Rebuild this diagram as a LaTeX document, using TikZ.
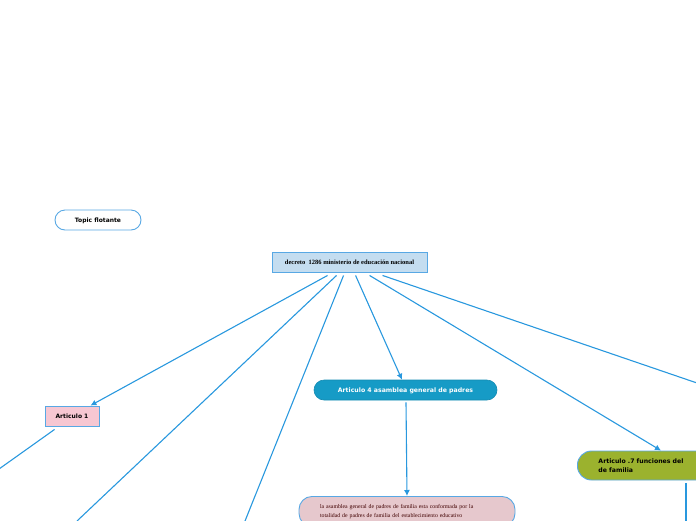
\documentclass[tikz,border=0pt]{standalone}
\usepackage{fontspec}
\setmainfont{Liberation Serif}
\newfontfamily\sansb{DejaVu Sans}
\usetikzlibrary{arrows.meta,calc}
\definecolor{lineblue}{RGB}{41,152,222}
\definecolor{bordblue}{RGB}{88,168,228}
\definecolor{centralfill}{RGB}{196,221,240}
\definecolor{pinkfill}{RGB}{247,199,210}
\definecolor{tealfill}{RGB}{22,155,198}
\definecolor{rosefill}{RGB}{230,200,205}
\definecolor{greenfill}{RGB}{155,178,46}
\tikzset{
  conn/.style={draw=lineblue, line width=1.1pt},
  arr/.style={conn, -{Latex[length=6pt,width=6pt]}},
  topicbox/.style={draw=bordblue, line width=0.9pt, fill=white, rounded corners=10pt,
    minimum width=86pt, minimum height=20pt, inner sep=0pt, text depth=0pt,
    font=\sansb\bfseries\fontsize{6}{7}\selectfont},
  centralbox/.style={draw=bordblue, line width=0.9pt, fill=centralfill,
    minimum width=155pt, minimum height=20pt, inner sep=0pt, text depth=0pt,
    font=\bfseries\fontsize{6.5}{7}\selectfont},
  artbox/.style={draw=bordblue, line width=0.9pt, fill=pinkfill,
    minimum width=54pt, minimum height=20pt, inner sep=0pt, text depth=0pt,
    font=\sansb\bfseries\fontsize{6}{7}\selectfont},
  pillbox/.style={draw=tealfill!90!black, line width=0.6pt, fill=tealfill, rounded corners=10pt,
    minimum width=183pt, minimum height=20pt, inner sep=0pt, text=white, text depth=0pt,
    font=\sansb\bfseries\fontsize{6.2}{7}\selectfont},
  rosebox/.style={draw=bordblue, line width=0.9pt, fill=rosefill, rounded corners=13pt,
    minimum width=216pt, minimum height=30pt, inner xsep=21pt, inner ysep=0pt,
    text width=174pt, align=left, text=black!75!red,
    font=\fontsize{5.8}{9}\selectfont},
  greenbox/.style={draw=bordblue, line width=0.9pt, fill=greenfill, rounded corners=14pt,
    minimum width=220pt, minimum height=29pt, inner xsep=21pt, inner ysep=0pt,
    text width=178pt, align=left,
    font=\sansb\bfseries\fontsize{6.2}{9}\selectfont},
}
\begin{document}
\begin{tikzpicture}[x=1pt,y=-1pt]
\useasboundingbox (0,0) rectangle (696,520);
\clip (0,0) rectangle (696,520);

\node[topicbox] (float) at (98,220) {Topic flotante};
\node[centralbox] (dec) at (349.5,262) {decreto\ \ 1286 ministerio de educación nacional};
\node[artbox] (a1) at (72,416) {Articulo 1};
\node[pillbox] (a4) at (405.5,390) {Articulo 4 asamblea general de padres};
\node[rosebox, anchor=north] (asam) at (407,496) {la asamblea general de padres de familia esta conformada por la\\totalidad de padres de familia del establecimiento educativo};
\node[greenbox, anchor=west] (a7) at (577,465.5) {Articulo .7 funciones del\\de familia};

% start points on the central topic
\coordinate (d1) at ($(dec.south west)+(56,3)$);
\coordinate (d2) at ($(dec.south west)+(65,3)$);
\coordinate (d3) at ($(dec.south west)+(72,3)$);
\coordinate (d4) at ($(dec.south west)+(84,3)$);
\coordinate (d5) at ($(dec.south west)+(98,3)$);
\coordinate (d6) at ($(dec.south west)+(111,3)$);
% free ends
\coordinate (e2) at (77,521);
\coordinate (e3) at (245,521);
\coordinate (e6) at (697,383);
\coordinate (a1out) at ($(a1.south west)+(10,3)$);
\coordinate (e1) at (-1,469);
\coordinate (a7out) at ($(a7.south west)+(109,3)$);
\coordinate (e7) at ($(a7.south west)+(109,41)$);

\draw[arr] (d1) -- ($(a1.north east)+(-9,0)$);
\draw[conn] (d2) -- (e2);
\draw[conn] (d3) -- (e3);
\draw[arr] (d4) -- ($(a4.north)+(-3.5,0)$);
\draw[arr] (d5) -- ($(a7.north west)+(84,0)$);
\draw[conn] (d6) -- (e6);
\draw[arr] ($(a4.south)+(0.5,2)$) -- (asam.north);
\draw[conn] (a1out) -- (e1);
\draw[conn] (a7out) -- (e7);
\end{tikzpicture}
\end{document}
